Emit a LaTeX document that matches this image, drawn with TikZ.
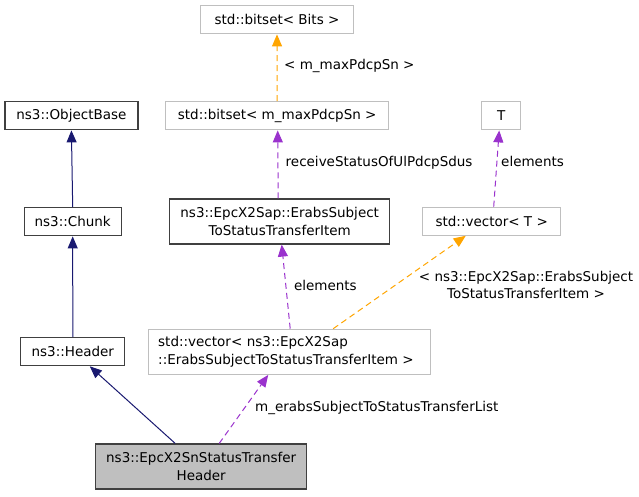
\documentclass[tikz,border=0pt]{standalone}
\usepackage{fontspec}
\setmainfont{DejaVu Sans}
\usetikzlibrary{arrows.meta}
\definecolor{inhblue}{HTML}{191970}
\definecolor{usepurple}{HTML}{9A32CD}
\definecolor{tplorange}{HTML}{FFA500}
\definecolor{undocgray}{HTML}{BFBFBF}
\begin{document}
\begin{tikzpicture}[x=1pt,y=-1pt,
        font=\fontsize{13.5}{17.5}\selectfont,
        cls/.style={draw=black!75,line width=1.2pt,inner sep=0pt,align=center},
        ext/.style={draw=undocgray,line width=1.2pt,inner sep=0pt,align=center},
        inh/.style={draw=inhblue,line width=1pt,-{Triangle[length=12pt,width=10pt]}},
        use/.style={draw=usepurple,line width=1pt,dash pattern=on 6pt off 4pt,-{Triangle[length=12pt,width=10pt]}},
        tpl/.style={draw=tplorange,line width=1pt,dash pattern=on 6pt off 4pt,-{Triangle[length=12pt,width=10pt]}},
        lbl/.style={inner sep=0pt,anchor=west}]
            \useasboundingbox (0,0) rectangle (639,496);

            \node[ext,minimum width=153pt,minimum height=28pt] (bsbits) at (277,19.8) {std::bitset< Bits >};
            \node[ext,minimum width=223pt,minimum height=28pt] (bsmax) at (277.2,115.8) {std::bitset< m\_maxPdcpSn >};
            \node[ext,minimum width=39pt,minimum height=28pt] (tT) at (501.2,115.8) {T};
            \node[cls,minimum width=133pt,minimum height=28pt] (ob) at (71.4,115.8) {ns3::ObjectBase};
            \node[cls,minimum width=97pt,minimum height=28pt] (chunk) at (72.7,221.8) {ns3::Chunk};
            \node[cls,minimum width=220pt,minimum height=45pt] (item) at (279.7,221.5) {ns3::EpcX2Sap::ErabsSubject\\ToStatusTransferItem};
            \node[ext,minimum width=138pt,minimum height=28pt] (vecT) at (491.7,221.2) {std::vector< T >};
            \node[cls,minimum width=104pt,minimum height=28pt] (hdr) at (72.8,351.7) {ns3::Header};
            \node[ext,minimum width=282pt,minimum height=45pt,text width=262pt,align=left] (vec) at (289.2,351.8) {std::vector< ns3::EpcX2Sap\\::ErabsSubjectToStatusTransferItem >};
            \node[cls,fill=undocgray,minimum width=211pt,minimum height=45pt] (main) at (201.2,466.5) {ns3::EpcX2SnStatusTransfer\\Header};

            \draw[inh] (chunk.north) -- (ob.south);
            \draw[inh] (hdr.north) -- (chunk.south);
            \draw[inh] ([xshift=-26pt]main.north) -- ([xshift=17pt]hdr.south);

            \draw[use] ([xshift=18pt]main.north) -- ([xshift=-21pt]vec.south);
            \draw[use] ([xshift=1pt]vec.north) -- ([xshift=2pt]item.south);
            \draw[use] ([xshift=-1.5pt]item.north) -- ([xshift=0.5pt]bsmax.south);
            \draw[use] ([xshift=2pt]vecT.north) -- ([xshift=-2pt]tT.south);
            \draw[tpl] ([xshift=44pt]vec.north) -- ([xshift=-26pt]vecT.south);
            \draw[tpl] (bsmax.north) -- (bsbits.south);

            \node[lbl] (lmax) at (284,66) {< m\_maxPdcpSn >};
            \node[lbl] (lrecv) at (285.5,162.3) {receiveStatusOfUlPdcpSdus};
            \node[lbl] (lelT) at (501,161.7) {elements};
            \node[lbl] (lelitem) at (293.8,285) {elements};
            \node[inner sep=0pt,align=center] (litem) at (526,285) {< ns3::EpcX2Sap::ErabsSubject\\ToStatusTransferItem >};
            \node[lbl] (llist) at (255,408.3) {m\_erabsSubjectToStatusTransferList};
        \end{tikzpicture}
\end{document}
